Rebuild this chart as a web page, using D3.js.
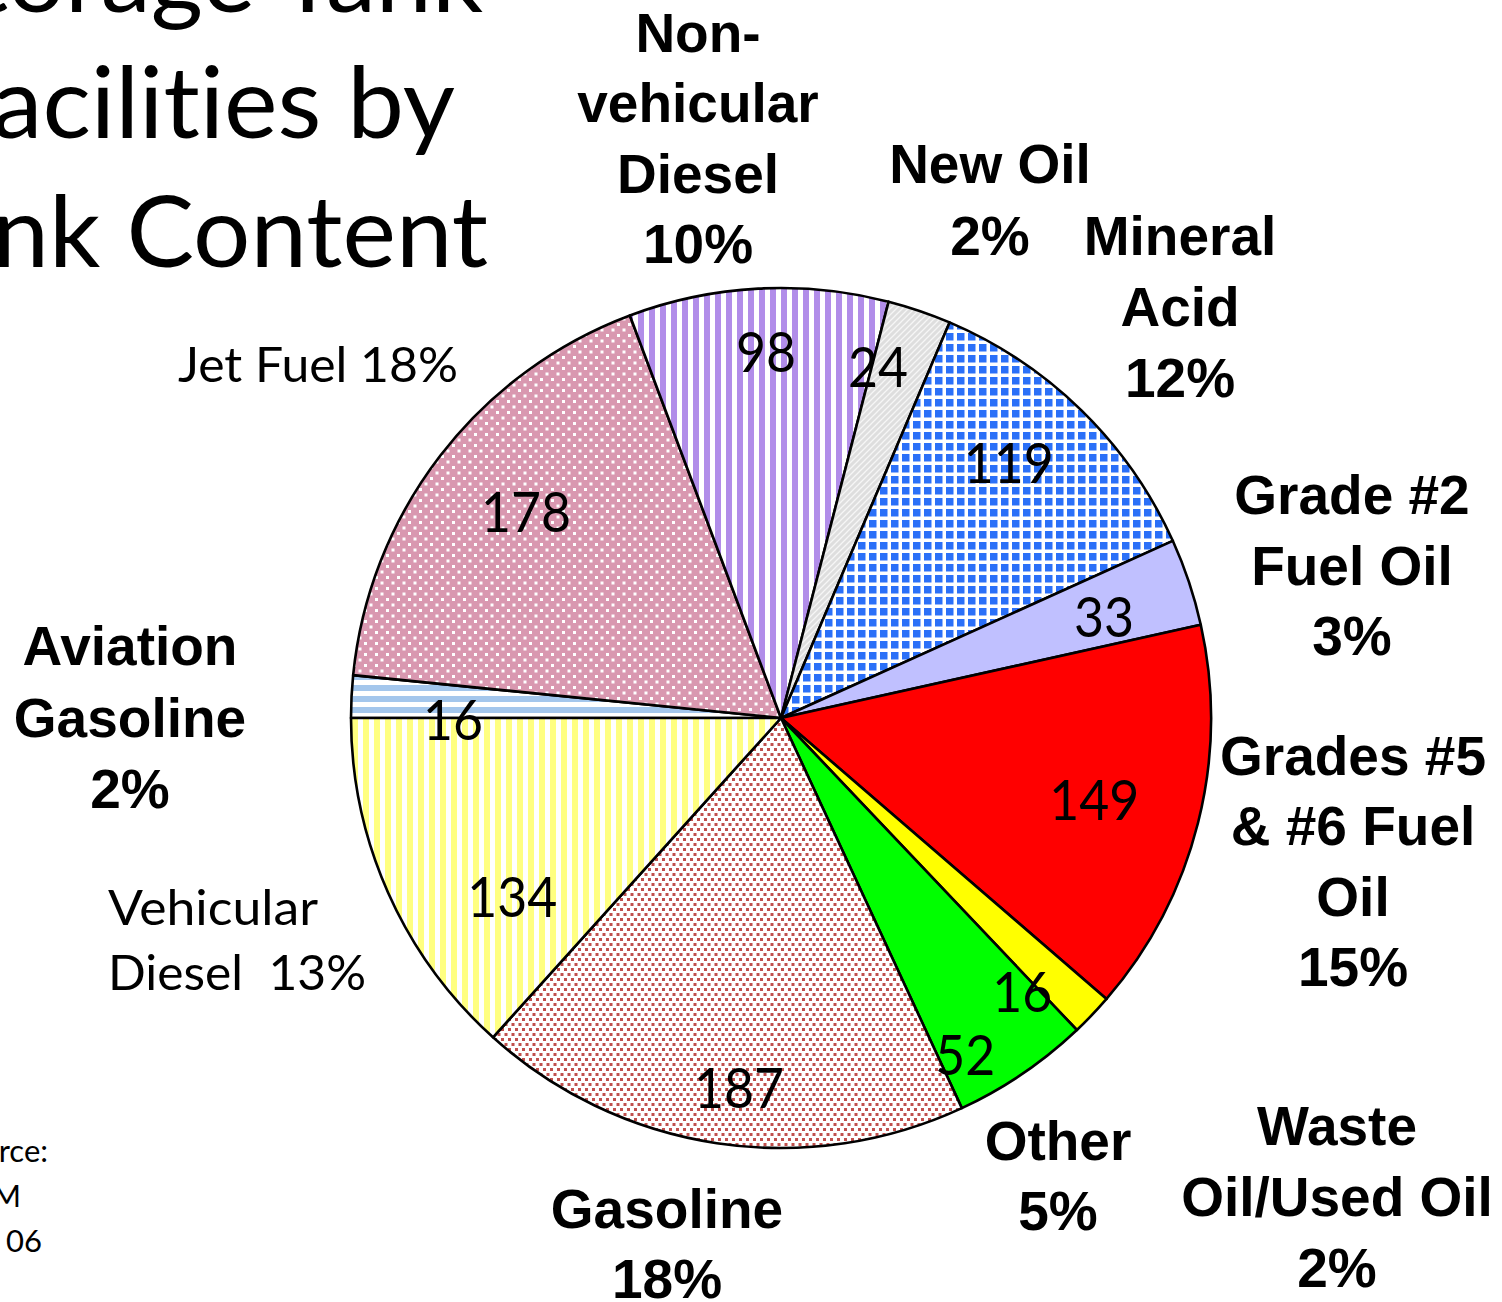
<!DOCTYPE html>
<html><head><meta charset="utf-8">
<script src="https://cdn.jsdelivr.net/npm/d3@7"></script>
<style>
html,body{margin:0;padding:0;background:#fff;overflow:hidden;}
svg{display:block;}
text{white-space:pre;font-variant-ligatures:none;font-feature-settings:"liga" 0,"clig" 0;}
</style>
</head><body>
<svg id="chart" width="1502" height="1302"></svg>
<script>
// ---- data ----
const categories = ["Aviation Gasoline","Jet Fuel","Non-vehicular Diesel","New Oil","Mineral Acid",
  "Grade #2 Fuel Oil","Grades #5 & #6 Fuel Oil","Waste Oil/Used Oil","Other","Gasoline","Vehicular Diesel"];
const counts = [16,178,98,24,119,33,149,16,52,187,134];
const percentLabels = ["2%","18%","10%","2%","12%","3%","15%","2%","5%","18%","13%"];
const categoryLabelLines = [
  ["Aviation","Gasoline","2%"],
  ["Jet Fuel 18%"],
  ["Non-","vehicular","Diesel","10%"],
  ["New Oil","2%"],
  ["Mineral","Acid","12%"],
  ["Grade #2","Fuel Oil","3%"],
  ["Grades #5","& #6 Fuel","Oil","15%"],
  ["Waste","Oil/Used Oil","2%"],
  ["Other","5%"],
  ["Gasoline","18%"],
  ["Vehicular","Diesel  13%"]
];
const titleLines = ["Storage Tank","Facilities by","Tank Content"];
const sourceLines = ["rce:","M","06"];

// ---- layout (not data) ----
const W = 1502, H = 1302;
const cx = 781, cy = 718, R = 430;
const fillIds = ["p-av","p-jet","p-nv","p-newoil","p-ma","solid-g2","solid-g56","solid-waste","solid-other","p-gas","p-vd"];
const solidColors = {"solid-g2":"#c0c0ff","solid-g56":"#ff0000","solid-waste":"#ffff00","solid-other":"#00ff00"};
// value label placement: fraction of radius and angular shift (deg) from slice mid-angle
const valueLabelRadius = [0.763,0.762,0.852,0.847,0.795,0.787,0.753,0.849,0.893,0.866,0.751];
const valueLabelShift  = [-3.2,1.35,0.7,-3.34,-2.57,1.07,0.54,5.0,5.5,-2.1,-9.66];
// category label placement
const catLayout = [
  {x:130, y:665, lh:71.5, anchor:"middle", bold:true},
  {x:178, y:382, lh:0, anchor:"start", bold:false, lens:[280]},
  {x:698, y:52, lh:70.3, anchor:"middle", bold:true},
  {x:990, y:183, lh:72, anchor:"middle", bold:true},
  {x:1180, y:255, lh:71, anchor:"middle", bold:true},
  {x:1352, y:514, lh:70.5, anchor:"middle", bold:true},
  {x:1353, y:775, lh:70.3, anchor:"middle", bold:true},
  {x:1337, y:1145, lh:71, anchor:"middle", bold:true},
  {x:1058, y:1160, lh:70, anchor:"middle", bold:true},
  {x:667, y:1228, lh:70, anchor:"middle", bold:true},
  {x:108, y:925, lh:65, anchor:"start", bold:false, lens:[210,258]}
];

const svg = d3.select("#chart");
const defs = svg.append("defs");

function pattern(id, w, h, bg) {
  const p = defs.append("pattern").attr("id", id).attr("patternUnits","userSpaceOnUse")
    .attr("width", w).attr("height", h);
  p.append("rect").attr("width", w).attr("height", h).attr("fill", bg);
  return p;
}
// Aviation gasoline: horizontal light-blue stripes
pattern("p-av", 11, 11, "#ffffff").append("rect").attr("y",0).attr("width",11).attr("height",6).attr("fill","#a3c6ec");
// Jet fuel: mauve with white dots
{ const p = pattern("p-jet", 11, 11, "#d998b0");
  p.append("rect").attr("x",1).attr("y",1).attr("width",3).attr("height",3).attr("fill","#fff");
  p.append("rect").attr("x",6.5).attr("y",6.5).attr("width",3).attr("height",3).attr("fill","#fff"); }
// Non-vehicular diesel: vertical purple stripes
pattern("p-nv", 11, 11, "#ffffff").append("rect").attr("x",0).attr("width",6).attr("height",11).attr("fill","#b18de9");
// New oil: light gray with white diagonal
{ const p = pattern("p-newoil", 6, 6, "#dedede");
  p.append("path").attr("d","M-1,7 L7,-1 M-1,1 L1,-1 M5,7 L7,5").attr("stroke","#f6f6f6").attr("stroke-width",1.3); }
// Mineral acid: blue squares with white grid
pattern("p-ma", 11, 11, "#ffffff").append("rect").attr("x",0).attr("y",0).attr("width",7.5).attr("height",7.5).attr("fill","#2b70f8");
// Gasoline: red squares on white
{ const p = pattern("p-gas", 7, 10, "#ffffff");
  p.append("rect").attr("x",0).attr("y",0).attr("width",3).attr("height",3).attr("fill","#c0504d");
  p.append("rect").attr("x",3.5).attr("y",5).attr("width",3).attr("height",3).attr("fill","#c0504d"); }
// Vehicular diesel: vertical yellow stripes
pattern("p-vd", 11, 11, "#ffffff").append("rect").attr("x",0).attr("width",6).attr("height",11).attr("fill","#ffff80");

function fillFor(i) {
  const id = fillIds[i];
  return solidColors[id] ? solidColors[id] : `url(#${id})`;
}

// ---- title ----
const titleG = svg.append("g");
const titleSpecs = [{x:-80,y:12,len:563},{x:-58,y:138,len:513},{x:-106,y:267,len:594}];
titleLines.forEach((t,i) => {
  titleG.append("text").attr("x", titleSpecs[i].x).attr("y", titleSpecs[i].y)
    .attr("textLength", titleSpecs[i].len).attr("lengthAdjust","spacingAndGlyphs")
    .attr("font-family","Lato, 'Open Sans', sans-serif").attr("font-size",98).attr("fill","#000").text(t);
});

// ---- pie ----
const pie = d3.pie().sort(null).value(d => d).startAngle(-Math.PI/2).endAngle(3*Math.PI/2);
const arcs = pie(counts);
const arc = d3.arc().innerRadius(0).outerRadius(R);
const g = svg.append("g").attr("transform", `translate(${cx},${cy})`);
g.selectAll("path.slice").data(arcs).join("path").attr("class","slice")
  .attr("d", arc).attr("fill", (d,i) => fillFor(i))
  .attr("stroke","#000").attr("stroke-width",2.6).attr("stroke-linejoin","round");

// value labels
g.selectAll("text.val").data(arcs).join("text").attr("class","val")
  .each(function(d,i){
    const mid = (d.startAngle + d.endAngle)/2 + valueLabelShift[i]*Math.PI/180;
    const rr = R*valueLabelRadius[i];
    const x = Math.sin(mid)*rr, y = -Math.cos(mid)*rr;
    const s = String(counts[i]);
    d3.select(this).attr("x", x).attr("y", y + 20).attr("text-anchor","middle")
      .attr("font-family","Lato, 'Open Sans', sans-serif").attr("font-size",57).attr("fill","#000")
      .attr("textLength", 30*s.length).attr("lengthAdjust","spacingAndGlyphs").text(s);
  });

// category labels
const labG = svg.append("g");
categoryLabelLines.forEach((lines, i) => {
  const L = catLayout[i];
  lines.forEach((ln, j) => {
    const t = labG.append("text").attr("x", L.x).attr("y", L.y + j*L.lh)
      .attr("text-anchor", L.anchor).attr("fill","#000").text(ln);
    if (L.bold) {
      t.attr("font-family","'Liberation Sans', Arial, sans-serif").attr("font-weight","bold").attr("font-size",55);
    } else {
      t.attr("font-family","Lato, 'Open Sans', sans-serif").attr("font-size",49);
      if (L.lens) t.attr("textLength", L.lens[j]).attr("lengthAdjust","spacingAndGlyphs");
    }
  });
});

// source note (cropped at left)
const srcSpecs = [{x:48,y:1162},{x:21,y:1207},{x:42,y:1252}];
sourceLines.forEach((s,i) => {
  svg.append("text").attr("x", srcSpecs[i].x).attr("y", srcSpecs[i].y).attr("text-anchor","end")
    .attr("font-family","Lato, 'Open Sans', sans-serif").attr("font-size",31).attr("fill","#000").text(s);
});
</script>
</body></html>
